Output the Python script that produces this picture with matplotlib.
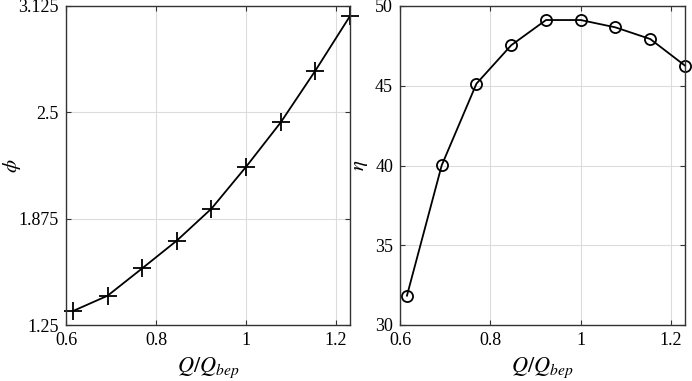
import matplotlib
matplotlib.use("Agg")
import matplotlib.pyplot as plt
import numpy as np

q_ratio = [8/13, 9/13, 10/13, 11/13, 12/13, 1.0, 14/13, 15/13, 16/13]
phi_vals = [1.332, 1.422, 1.583, 1.746, 1.934, 2.180, 2.441, 2.745, 3.066]
eta_vals = [31.84, 40.01, 45.13, 47.54, 49.12, 49.12, 48.66, 47.93, 46.26]

x_ticks = [0.6, 0.8, 1.0, 1.2]
x_ticklabels = ["0.6", "0.8", "1", "1.2"]
phi_ticks = [1.25, 1.875, 2.5, 3.125]
phi_ticklabels = ["1.25", "1.875", "2.5", "3.125"]
eta_ticks = [30, 35, 40, 45, 50]
eta_ticklabels = ["30", "35", "40", "45", "50"]

plt.rcParams['font.family'] = ['Liberation Serif', 'DejaVu Serif']
plt.rcParams['mathtext.fontset'] = 'stix'

fig = plt.figure(figsize=(6.92, 3.81), dpi=100)
W, H = 692, 381
ax1 = fig.add_axes([66/W, 1 - 325/H, (350-66)/W, (325-6)/H])
ax2 = fig.add_axes([400/W, 1 - 325/H, (685-400)/W, (325-6)/H])

def style(ax):
    ax.grid(True, color='#dcdcdc', linewidth=0.8)
    ax.set_axisbelow(True)
    for s in ax.spines.values():
        s.set_color('#333333')
        s.set_linewidth(1.0)
    ax.tick_params(direction='in', top=True, right=True, labelsize=13,
                   color='#333333', length=3.5, width=0.8)
    ax.tick_params(axis='y', pad=5)
    ax.tick_params(axis='x', pad=5)
    ax.set_xlim(0.6, 16/13)
    ax.set_xticks(x_ticks)
    ax.set_xticklabels(x_ticklabels)
    ax.set_xlabel(r'$Q/Q_{bep}$', fontsize=16)
    ax.xaxis.set_label_coords(0.5, -0.095)

ax1.plot(q_ratio, phi_vals, color='black', linewidth=1.3, marker='+',
         markersize=13, markeredgewidth=1.3, clip_on=False)
style(ax1)
ax1.set_ylim(1.25, 3.125)
ax1.set_yticks(phi_ticks)
ax1.set_yticklabels(phi_ticklabels)
ax1.set_ylabel(r'$\phi$', fontsize=15)
ax1.yaxis.set_label_coords(-0.15, 0.5)

ax2.plot(q_ratio, eta_vals, color='black', linewidth=1.3, marker='o',
         markersize=8, markerfacecolor='none', markeredgewidth=1.3, clip_on=False)
style(ax2)
ax2.set_ylim(30, 50)
ax2.set_yticks(eta_ticks)
ax2.set_yticklabels(eta_ticklabels)
ax2.set_ylabel(r'$\eta$', fontsize=15)
ax2.yaxis.set_label_coords(-0.105, 0.5)

fig.savefig('out.png', dpi=100)
